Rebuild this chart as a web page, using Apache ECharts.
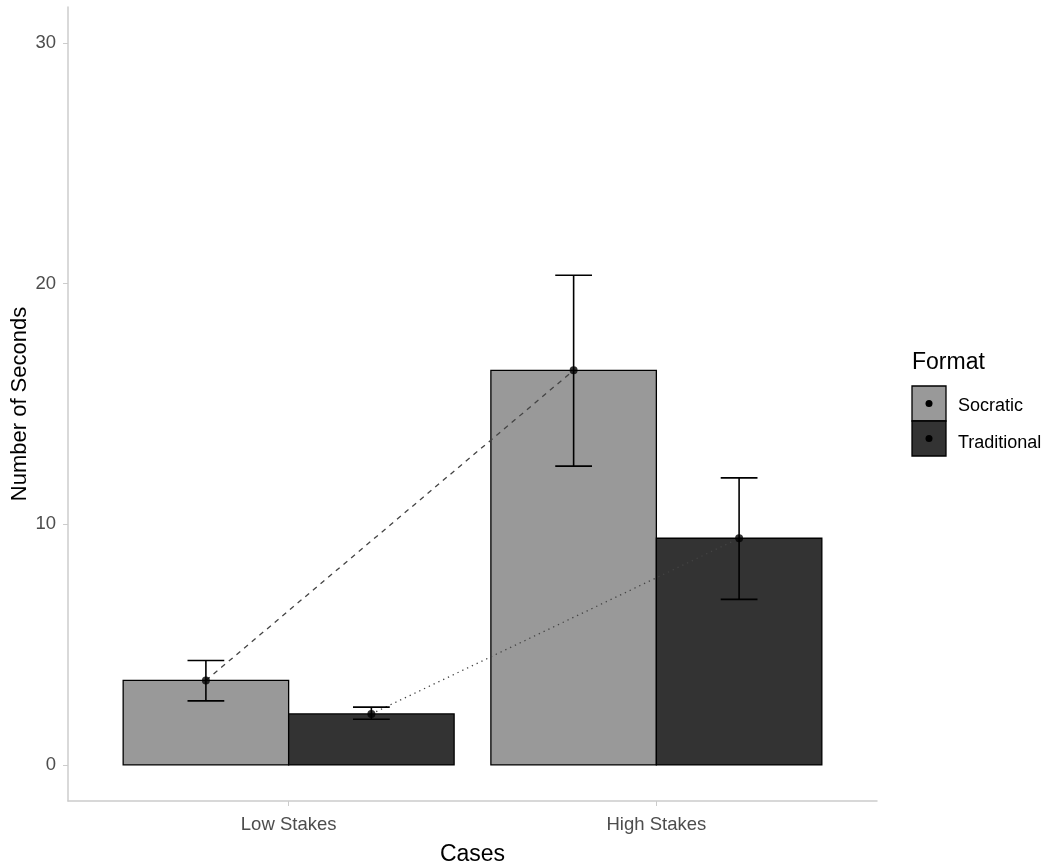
<!DOCTYPE html>
<html>
<head>
<meta charset="utf-8">
<script src="https://cdn.jsdelivr.net/npm/echarts@6/dist/echarts.min.js"></script>
<style>html,body{margin:0;padding:0;background:#fff}#c{width:1049px;height:863px}</style>
</head>
<body>
<div id="c"></div>
<script>
const categories = ['Low Stakes', 'High Stakes'];
const formats = ['Socratic', 'Traditional'];
const socraticMean = [3.51, 16.40];
const socraticLower = [2.66, 12.42];
const socraticUpper = [4.34, 20.35];
const traditionalMean = [2.12, 9.42];
const traditionalLower = [1.90, 6.88];
const traditionalUpper = [2.40, 11.93];
const yTicks = [0, 10, 20, 30];

const fills = ['#999999', '#333333'];
const FONT = '"Liberation Sans", Arial, sans-serif';
const dodge = 0.225, barHalf = 0.225, capHalf = 0.05;

const means = [socraticMean, traditionalMean];
const lowers = [socraticLower, traditionalLower];
const uppers = [socraticUpper, traditionalUpper];

function xPos(catIdx, fmtIdx) { return catIdx + 1 + (fmtIdx === 0 ? -dodge : dodge); }

const series = [];
formats.forEach((f, fi) => {
  series.push({
    type: 'custom', name: f, z: 2,
    data: categories.map((c, ci) => [xPos(ci, fi), means[fi][ci]]),
    renderItem: (params, api) => {
      const x = api.value(0), y = api.value(1);
      const p0 = api.coord([x - barHalf, y]);
      const p1 = api.coord([x + barHalf, 0]);
      return { type: 'rect', shape: { x: p0[0], y: p0[1], width: p1[0] - p0[0], height: p1[1] - p0[1] },
        style: { fill: fills[fi], stroke: '#000', lineWidth: 1.3 } };
    }
  });
});
formats.forEach((f, fi) => {
  series.push({
    type: 'line', z: 3, silent: true, symbol: 'none',
    data: categories.map((c, ci) => [xPos(ci, fi), means[fi][ci]]),
    lineStyle: { color: '#444', width: 1.3, type: fi === 0 ? [5, 5] : [1.3, 4] }
  });
});
formats.forEach((f, fi) => {
  series.push({
    type: 'custom', z: 4,
    data: categories.map((c, ci) => [xPos(ci, fi), lowers[fi][ci], uppers[fi][ci]]),
    renderItem: (params, api) => {
      const x = api.value(0), lo = api.value(1), hi = api.value(2);
      const a = api.coord([x, lo]), b = api.coord([x, hi]);
      const l = api.coord([x - capHalf, lo]), r = api.coord([x + capHalf, hi]);
      const st = { stroke: '#000', lineWidth: 1.6 };
      return { type: 'group', children: [
        { type: 'line', shape: { x1: a[0], y1: a[1], x2: b[0], y2: b[1] }, style: st },
        { type: 'line', shape: { x1: l[0], y1: a[1], x2: r[0], y2: a[1] }, style: st },
        { type: 'line', shape: { x1: l[0], y1: b[1], x2: r[0], y2: b[1] }, style: st }
      ] };
    }
  });
});
formats.forEach((f, fi) => {
  series.push({
    type: 'scatter', z: 5, symbol: 'circle', symbolSize: 8,
    itemStyle: { color: '#000' },
    data: categories.map((c, ci) => [xPos(ci, fi), means[fi][ci]])
  });
});

const legendX = 912, legendY = 386, keyW = 34, keyH = 35;
const graphic = [
  { type: 'text', left: legendX, top: 351, style: { text: 'Format', font: '23px ' + FONT, fill: '#000' } }
];
formats.forEach((f, fi) => {
  graphic.push({ type: 'rect', shape: { x: legendX, y: legendY + fi * keyH, width: keyW, height: keyH },
    style: { fill: fills[fi], stroke: '#000', lineWidth: 1.3 } });
  graphic.push({ type: 'circle', shape: { cx: legendX + keyW / 2, cy: legendY + fi * keyH + keyH / 2, r: 3.5 },
    style: { fill: '#000' } });
  graphic.push({ type: 'text', x: legendX + keyW + 12, y: legendY + fi * 37 + 20,
    style: { text: f, font: '18px ' + FONT, fill: '#000', textVerticalAlign: 'middle' } });
});

const chart = echarts.init(document.getElementById('c'));
chart.setOption({
  animation: false,
  backgroundColor: '#fff',
  grid: { left: 68, right: 172, top: 7, bottom: 62, containLabel: false, outerBoundsMode: 'none' },
  xAxis: {
    type: 'value', min: 0.4, max: 2.6,
    name: 'Cases', nameLocation: 'middle', nameGap: 42, nameMoveOverlap: false,
    nameTextStyle: { fontFamily: FONT, fontSize: 23, color: '#000' },
    axisLine: { show: true, onZero: false, lineStyle: { color: '#cccccc', width: 1.5 } },
    axisTick: { show: true, length: 5, customValues: [1, 2], lineStyle: { color: '#cccccc' } },
    axisLabel: { customValues: [1, 2], formatter: v => categories[Math.round(v) - 1], margin: 14,
      fontFamily: FONT, fontSize: 18.5, color: '#4d4d4d' },
    splitLine: { show: false }
  },
  yAxis: {
    type: 'value', min: -1.5, max: 31.5,
    name: 'Number of Seconds', nameLocation: 'middle', nameGap: 37, nameRotate: 90, nameMoveOverlap: false,
    nameTextStyle: { fontFamily: FONT, fontSize: 22, color: '#000' },
    axisLine: { show: true, onZero: false, lineStyle: { color: '#cccccc', width: 1.5 } },
    axisTick: { show: true, length: 5, customValues: yTicks, lineStyle: { color: '#cccccc' } },
    axisLabel: { customValues: yTicks, margin: 12, fontFamily: FONT, fontSize: 18.5, color: '#4d4d4d' },
    splitLine: { show: false }
  },
  graphic: graphic,
  series: series
});
</script>
</body>
</html>
